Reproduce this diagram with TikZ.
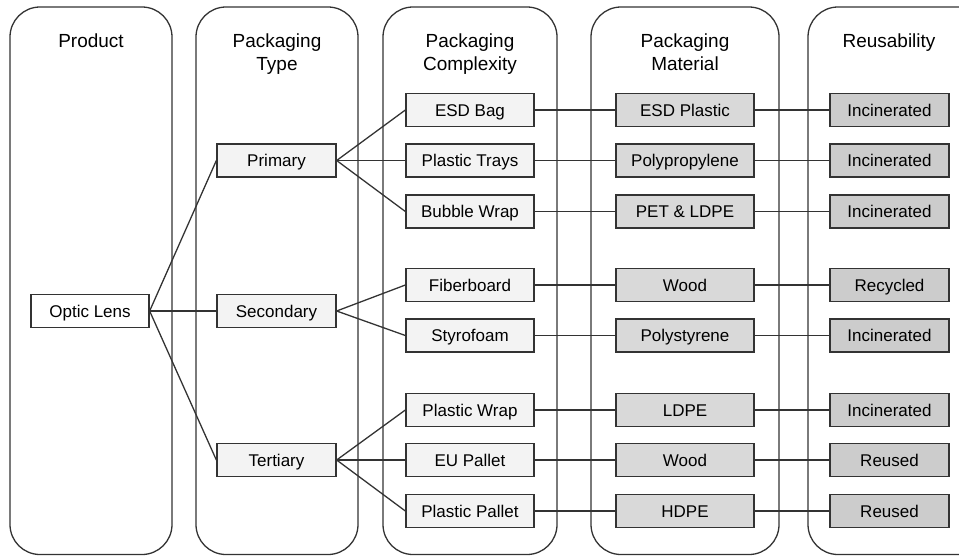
\documentclass[tikz,border=0pt]{standalone}
\usepackage{fontspec}
\setmainfont{Liberation Sans}
\usepackage{xcolor}
\usepackage{tikz}
\definecolor{ink}{HTML}{333333}
\definecolor{paper}{HTML}{FFFFFF}
\definecolor{lightgrey}{HTML}{F3F3F3}
\definecolor{midgrey}{HTML}{D9D9D9}
\definecolor{darkgrey}{HTML}{CCCCCC}

\begin{document}
\begin{tikzpicture}[x=0.03cm,y=-0.03cm,font=\fontsize{14.5}{20.4}\selectfont,
  lane/.style={draw=ink,line width=1.1pt,rounded corners=0.9cm},
  head/.style={align=center,font=\fontsize{16.2}{20}\selectfont,text depth=3.4pt},
  item/.style={draw=ink,line width=1.1pt,minimum height=0.99cm,inner sep=0pt,
    text height=10.4pt,text depth=0pt},
  link/.style={draw=ink,line width=1.1pt}]
  \clip (0,0) rectangle (959,556);
  \fill[white] (0,0) rectangle (959,556);
  % columns
  \draw[lane] (10,7) rectangle (172,554.5);
  \draw[lane] (196,7) rectangle (358,554.5);
  \draw[lane] (383,7) rectangle (557,554.5);
  \draw[lane] (591,7) rectangle (779,554.5);
  \draw[lane] (808,7) rectangle (990,554.5);
  % titles
  \node[head,anchor=base] (t1) at (91,47) {Product};
  \node[head] (t2) at (277,54) {Packaging\\Type};
  \node[head] (t3) at (470,54) {Packaging\\Complexity};
  \node[head] (t4) at (685,54) {Packaging\\Material};
  \node[head,anchor=base] (t5) at (889,47) {Reusability};
  % product and packaging type
  \node[item,fill=paper,minimum width=3.54cm] (lens) at (90,311) {Optic Lens};
  \node[item,fill=lightgrey,minimum width=3.57cm] (prim) at (276.5,160.5) {Primary};
  \node[item,fill=lightgrey,minimum width=3.57cm] (sec) at (276.5,311) {Secondary};
  \node[item,fill=lightgrey,minimum width=3.57cm] (ter) at (276.5,460) {Tertiary};
  % complexity
  \node[item,fill=lightgrey,minimum width=3.84cm] (esd) at (470,110) {ESD Bag};
  \node[item,fill=lightgrey,minimum width=3.84cm] (trays) at (470,160.5) {Plastic Trays};
  \node[item,fill=lightgrey,minimum width=3.84cm] (bubble) at (470,211.5) {Bubble Wrap};
  \node[item,fill=lightgrey,minimum width=3.84cm] (fiber) at (470,285) {Fiberboard};
  \node[item,fill=lightgrey,minimum width=3.84cm] (styro) at (470,335.5) {Styrofoam};
  \node[item,fill=lightgrey,minimum width=3.84cm] (wrap) at (470,410) {Plastic Wrap};
  \node[item,fill=lightgrey,minimum width=3.84cm] (eupal) at (470,460) {EU Pallet};
  \node[item,fill=lightgrey,minimum width=3.84cm] (plpal) at (470,511) {Plastic Pallet};
  % material
  \node[item,fill=midgrey,minimum width=4.14cm] (m1) at (685,110) {ESD Plastic};
  \node[item,fill=midgrey,minimum width=4.14cm] (m2) at (685,160.5) {Polypropylene};
  \node[item,fill=midgrey,minimum width=4.14cm] (m3) at (685,211.5) {PET \& LDPE};
  \node[item,fill=midgrey,minimum width=4.14cm] (m4) at (685,285) {Wood};
  \node[item,fill=midgrey,minimum width=4.14cm] (m5) at (685,335.5) {Polystyrene};
  \node[item,fill=midgrey,minimum width=4.14cm] (m6) at (685,410) {LDPE};
  \node[item,fill=midgrey,minimum width=4.14cm] (m7) at (685,460) {Wood};
  \node[item,fill=midgrey,minimum width=4.14cm] (m8) at (685,511) {HDPE};
  % reusability
  \node[item,fill=darkgrey,minimum width=3.57cm] (r1) at (889.5,110) {Incinerated};
  \node[item,fill=darkgrey,minimum width=3.57cm] (r2) at (889.5,160.5) {Incinerated};
  \node[item,fill=darkgrey,minimum width=3.57cm] (r3) at (889.5,211.5) {Incinerated};
  \node[item,fill=darkgrey,minimum width=3.57cm] (r4) at (889.5,285) {Recycled};
  \node[item,fill=darkgrey,minimum width=3.57cm] (r5) at (889.5,335.5) {Incinerated};
  \node[item,fill=darkgrey,minimum width=3.57cm] (r6) at (889.5,410) {Incinerated};
  \node[item,fill=darkgrey,minimum width=3.57cm] (r7) at (889.5,460) {Reused};
  \node[item,fill=darkgrey,minimum width=3.57cm] (r8) at (889.5,511) {Reused};
  % connectors
  \foreach \t in {prim,sec,ter}
    \draw[link] (lens.east)--(\t.west);
  \foreach \c in {esd,trays,bubble}
    \draw[link] (prim.east)--(\c.west);
  \foreach \c in {fiber,styro}
    \draw[link] (sec.east)--(\c.west);
  \foreach \c in {wrap,eupal,plpal}
    \draw[link] (ter.east)--(\c.west);
  \foreach \c/\m/\r in {esd/m1/r1,trays/m2/r2,bubble/m3/r3,fiber/m4/r4,styro/m5/r5,wrap/m6/r6,eupal/m7/r7,plpal/m8/r8}{
    \draw[link] (\c.east)--(\m.west);
    \draw[link] (\m.east)--(\r.west);
  }
\end{tikzpicture}
\end{document}
